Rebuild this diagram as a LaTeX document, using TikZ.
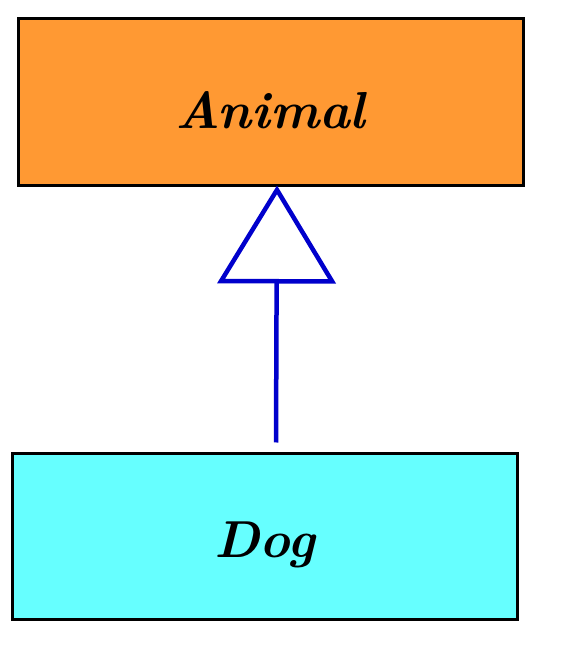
\documentclass[tikz,border=0pt]{standalone}
\usetikzlibrary{arrows.meta}
\definecolor{animalfill}{RGB}{255,153,51}
\definecolor{dogfill}{RGB}{102,255,255}
\definecolor{linkblue}{RGB}{0,0,204}
\begin{document}
\begin{tikzpicture}[x=1pt,y=1pt,
  classbox/.style={draw=black,line width=3pt,minimum width=505pt,minimum height=167pt,inner sep=0pt,
    font=\fontsize{52}{56}\selectfont\bfseries\itshape},
  inherit/.style={draw=linkblue,line width=4.5pt,
    -{Triangle[open,length=98pt,width=118pt,line width=4.5pt]}}]
\useasboundingbox (0,0) rectangle (573,672);
\node[classbox,fill=animalfill,text height=52pt,text depth=0pt] (animal) at (270.5,569.5) {Animal};
\node[classbox,fill=dogfill,minimum height=166pt,text height=52pt,text depth=10pt] (dog) at (264.5,135) {Dog};
\draw[inherit] ([xshift=11.5pt,yshift=10pt]dog.north) -- ([xshift=6.5pt,yshift=2pt]animal.south);
\end{tikzpicture}
\end{document}
